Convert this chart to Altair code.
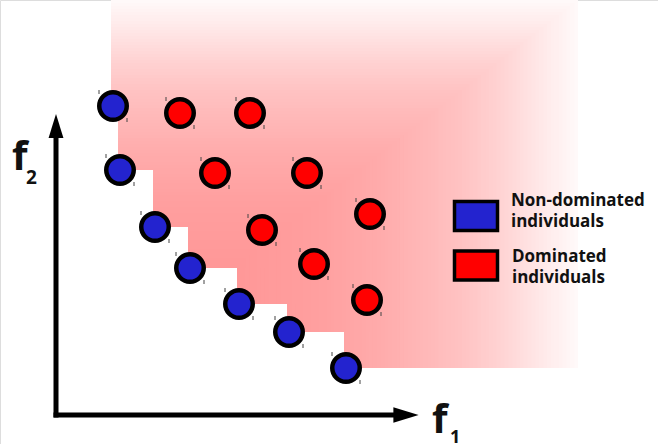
import altair as alt
import pandas as pd

# Objective values (f1, f2) of the population, in drawing units
blue_f1 = [57, 64, 99, 134, 183, 233, 290]      # non-dominated individuals
blue_f2 = [309, 245, 188, 147, 111, 83, 47]
red_f1 = [124, 194, 159, 251, 314, 206, 258, 311]  # dominated individuals
red_f2 = [302, 302, 242, 242, 201, 185, 151, 115]

legend_labels = [["Non-dominated", "individuals"], ["Dominated", "individuals"]]
blue_fill = "#2323cf"
red_fill = "#ff0000"

# Extent of the shaded dominated region
F1_MIN, F1_MAX = -56, 602
F2_MIN, F2_MAX = -29, 415
SHADE_RIGHT = 522
SHADE_TOP = 415
SHADE_RATIO = 1.29      # horizontal fade runs slower than the vertical one
SHADE_STEP = 3

# Dominated region as a staircase: band i lies above front point i and
# below front point i-1, reaching to the right edge.  Nested copies of it,
# shrunk away from the top and right edges, give the fading shade.
edges = [f - 2 for f in blue_f1]
upper = [SHADE_TOP] + blue_f2[:-1]
rows = []
level = 0
while True:
    right = SHADE_RIGHT - SHADE_RATIO * level
    top = SHADE_TOP - level
    added = False
    for e, lo, hi in zip(edges, blue_f2, upper):
        hi_c = min(hi, top)
        if right > e and hi_c > lo:
            rows.append({"x": e, "x2": right, "y": lo, "y2": hi_c, "level": level})
            added = True
    if not added:
        break
    level += SHADE_STEP
shade = pd.DataFrame(rows)

xs = alt.Scale(domain=[F1_MIN, F1_MAX], nice=False, zero=False)
ys = alt.Scale(domain=[F2_MIN, F2_MAX], nice=False, zero=False)

shade_layer = alt.Chart(shade).mark_rect(strokeWidth=0).encode(
    x=alt.X("x:Q", scale=xs, axis=None),
    x2="x2:Q",
    y=alt.Y("y:Q", scale=ys, axis=None),
    y2="y2:Q",
    color=alt.Color(
        "level:Q",
        scale=alt.Scale(
            domain=[0, 30, 60, 90, 150, 200, 260],
            range=["#ffffff", "#ffe6e6", "#ffd2d2", "#ffc2c2",
                   "#ffacac", "#ff9f9f", "#ff9898"],
        ),
        legend=None,
    ),
)

blue = pd.DataFrame({"f1": blue_f1, "f2": blue_f2})
red = pd.DataFrame({"f1": red_f1, "f2": red_f2})


def dots(df, fill):
    return alt.Chart(df).mark_point(
        shape="circle", size=756, filled=False, fill=fill, fillOpacity=1,
        stroke="black", strokeWidth=4.5, opacity=1,
    ).encode(x=alt.X("f1:Q", scale=xs), y=alt.Y("f2:Q", scale=ys))


def nicks(df, dx, dy):
    return alt.Chart(df).mark_point(
        shape="M0,-1L0,1", size=16, filled=False, stroke="#444444",
        strokeWidth=1, xOffset=dx, yOffset=dy, opacity=1,
    ).encode(x=alt.X("f1:Q", scale=xs), y=alt.Y("f2:Q", scale=ys))


both = pd.concat([blue, red])
marks = [dots(blue, blue_fill), dots(red, red_fill),
         nicks(both, -14, -14), nicks(both, 14, 14)]

# Axis arrows
shafts = pd.DataFrame({"x": [0, -2.5], "x2": [0, 339],
                       "y": [-2.5, 0], "y2": [279, 0]})
shaft_layer = alt.Chart(shafts).mark_rule(
    strokeWidth=5, color="black", strokeCap="butt"
).encode(
    x=alt.X("x:Q", scale=xs), x2="x2:Q",
    y=alt.Y("y:Q", scale=ys), y2="y2:Q",
)
head_path = "M0,-1L0.62,1L-0.62,1Z"
heads_v = alt.Chart(pd.DataFrame({"x": [0], "y": [289]})).mark_point(
    shape=head_path, size=576, filled=True, color="black", opacity=1,
).encode(x=alt.X("x:Q", scale=xs), y=alt.Y("y:Q", scale=ys))
heads_h = alt.Chart(pd.DataFrame({"x": [350], "y": [0]})).mark_point(
    shape=head_path, size=640, filled=True, color="black", opacity=1, angle=90,
).encode(x=alt.X("x:Q", scale=xs), y=alt.Y("y:Q", scale=ys))

one = pd.DataFrame({"k": [0]})
FONT = "Open Sans"


def label(text, x, y, size, weight="bold"):
    return alt.Chart(one).mark_text(
        text=text, font=FONT, fontSize=size, fontWeight=weight,
        align="left", baseline="alphabetic", color="#111111", lineHeight=21,
    ).encode(x=alt.value(x), y=alt.value(y))


axis_titles = [
    label("f", 12, 170, 40), label("2", 26, 184, 19),
    label("f", 432, 433, 40), label("1", 450, 443, 18),
]

legend_boxes = [
    alt.Chart(one).mark_rect(fill=fill, stroke="black", strokeWidth=3.5).encode(
        x=alt.value(454.5), x2=alt.value(497.5),
        y=alt.value(y0), y2=alt.value(y0 + 29),
    )
    for fill, y0 in [(blue_fill, 201.5), (red_fill, 251)]
]
legend_text = [
    label(legend_labels[0], 511, 206, 17),
    label(legend_labels[1], 512, 262, 17),
]

chart = alt.layer(
    shade_layer, *marks, shaft_layer, heads_v, heads_h,
    *axis_titles, *legend_boxes, *legend_text,
).properties(
    width=658, height=444, padding=0, autosize=alt.AutoSizeParams(type="none"),
).configure_view(strokeWidth=0).configure(background="white")

chart.save("out.html", embed_options={"renderer": "svg", "actions": False})
